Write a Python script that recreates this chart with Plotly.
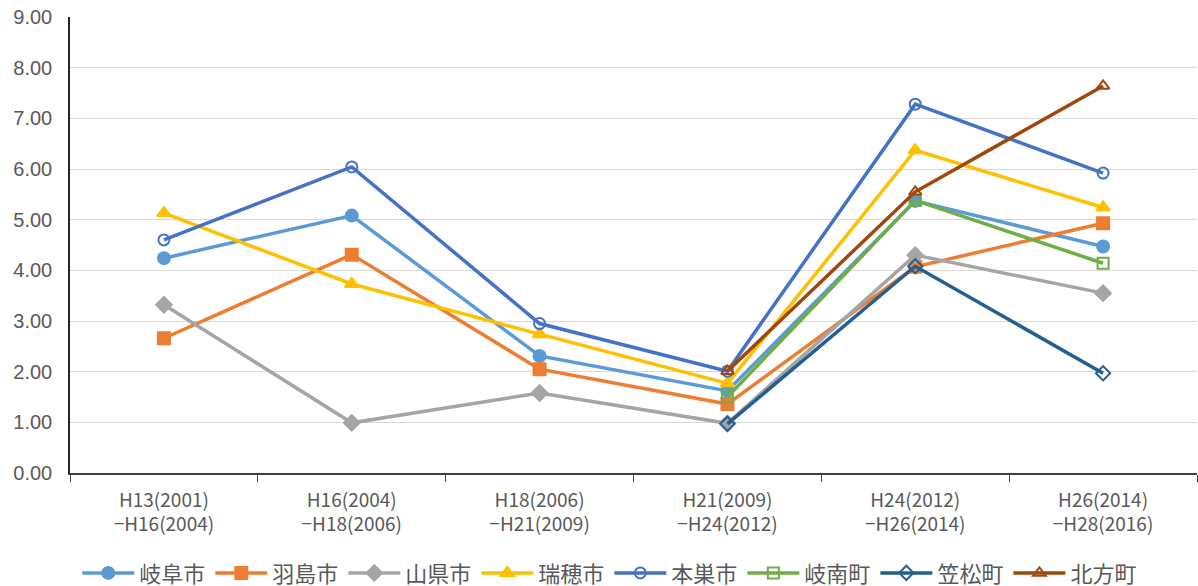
import plotly.graph_objects as go

periods = [
    "H13(2001)<br>−H16(2004)",
    "H16(2004)<br>−H18(2006)",
    "H18(2006)<br>−H21(2009)",
    "H21(2009)<br>−H24(2012)",
    "H24(2012)<br>−H26(2014)",
    "H26(2014)<br>−H28(2016)",
]

gifu = [4.24, 5.08, 2.31, 1.62, 5.37, 4.47]
hashima = [2.66, 4.31, 2.05, 1.36, 4.07, 4.93]
yamagata = [3.32, 0.99, 1.58, 0.98, 4.30, 3.55]
mizuho = [5.13, 3.73, 2.74, 1.77, 6.37, 5.24]
motosu = [4.60, 6.04, 2.95, 2.01, 7.28, 5.92]
ginan = [None, None, None, 1.50, 5.38, 4.14]
kasamatsu = [None, None, None, 0.97, 4.08, 1.97]
kitagata = [None, None, None, 2.01, 5.55, 7.64]

series = [
    ("岐阜市", gifu, "#5B9BD5", "circle"),
    ("羽島市", hashima, "#ED7D31", "square"),
    ("山県市", yamagata, "#A5A5A5", "diamond"),
    ("瑞穂市", mizuho, "#FFC000", "triangle-up"),
    ("本巣市", motosu, "#4472C4", "circle-open"),
    ("岐南町", ginan, "#70AD47", "square-open"),
    ("笠松町", kasamatsu, "#255E91", "diamond-open"),
    ("北方町", kitagata, "#9E480E", "triangle-up-open"),
]

fig = go.Figure()
for name, vals, color, sym in series:
    fig.add_trace(go.Scatter(
        x=periods, y=vals, name=name, mode="lines+markers",
        line=dict(color=color, width=3.5),
        marker=dict(symbol=sym, size=12 if "open" not in sym else 11, color=color,
                    line=dict(color=color, width=2)),
        connectgaps=False,
    ))

fig.update_layout(
    width=1198, height=586,
    margin=dict(l=70, r=1, t=17, b=113),
    plot_bgcolor="white", paper_bgcolor="white",
    showlegend=True,
    legend=dict(
        orientation="h", xref="container", yref="container",
        x=0.509, xanchor="center", y=0.022, yanchor="middle",
        font=dict(family="Noto Sans CJK JP", size=22, color="#595959"),
        itemwidth=52, tracegroupgap=0,
    ),
)
fig.update_xaxes(
    type="category", range=[-0.5, 5.5],
    showline=True, linecolor="#404040", linewidth=1.5,
    ticks="outside", tickson="boundaries", ticklen=7, tickcolor="#404040",
    ticklabelstandoff=9,
    showgrid=False,
    tickfont=dict(family="Noto Sans CJK JP", size=19, color="#595959"),
)
fig.update_yaxes(
    range=[0, 9], dtick=1, tickformat=".2f",
    showline=True, linecolor="#262626", linewidth=1.5,
    showgrid=True, gridcolor="#D9D9D9", gridwidth=1,
    zeroline=False,
    ticks="", ticklabelstandoff=12,
    tickfont=dict(family="Liberation Sans", size=20, color="#595959"),
)

fig.write_html("out.html")
